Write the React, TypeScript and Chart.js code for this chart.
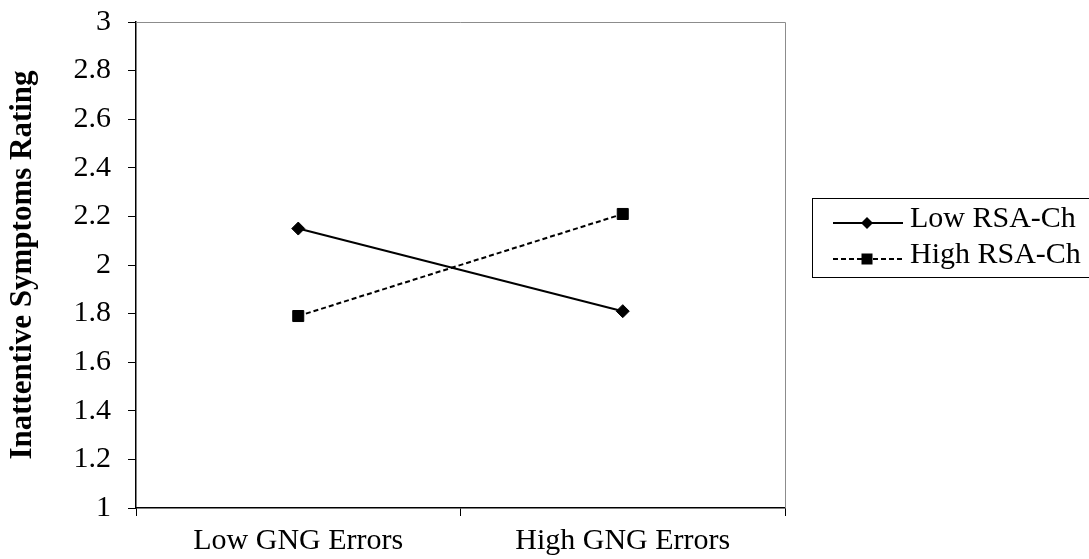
import React, { useEffect, useRef } from "react";
import { Chart, registerables } from "chart.js";

Chart.register(...registerables);

const categories = ["Low GNG Errors", "High GNG Errors"];
const lowRsaValues = [2.15, 1.81];
const highRsaValues = [1.79, 2.21];
const seriesNames = ["Low RSA-Ch", "High RSA-Ch"];
const yTicks = [1, 1.2, 1.4, 1.6, 1.8, 2, 2.2, 2.4, 2.6, 2.8, 3];
const yTitle = "Inattentive Symptoms Rating";

const FONT = "'Liberation Serif', 'Times New Roman', serif";

const frameAndLegend = {
  id: "frameAndLegend",
  beforeDatasetsDraw(chart: any) {
    const { ctx, chartArea } = chart;
    ctx.save();
    ctx.strokeStyle = "#8c8c8c";
    ctx.lineWidth = 1;
    ctx.beginPath();
    ctx.moveTo(chartArea.left, Math.round(chartArea.top) + 0.5);
    ctx.lineTo(Math.round(chartArea.right) + 0.5, Math.round(chartArea.top) + 0.5);
    ctx.lineTo(Math.round(chartArea.right) + 0.5, chartArea.bottom);
    ctx.stroke();
    ctx.restore();
  },
  afterDraw(chart: any) {
    const { ctx } = chart;
    const bx = 812.5, by = 198.5, bw = 290, bh = 79;
    ctx.save();
    ctx.strokeStyle = "#000";
    ctx.lineWidth = 1;
    ctx.strokeRect(bx, by, bw, bh);
    const rows = [223, 259];
    const baselines = [227, 263];
    chart.data.datasets.forEach((ds: any, i: number) => {
      const y = rows[i];
      ctx.save();
      ctx.strokeStyle = ds.borderColor;
      ctx.lineWidth = ds.borderWidth;
      ctx.setLineDash(ds.borderDash || []);
      ctx.beginPath();
      ctx.moveTo(833, y);
      ctx.lineTo(903, y);
      ctx.stroke();
      ctx.restore();
      ctx.save();
      ctx.fillStyle = ds.pointBackgroundColor;
      if (ds.pointStyle === "rectRot") {
        const r = 6;
        ctx.beginPath();
        ctx.moveTo(867, y - r);
        ctx.lineTo(867 + r, y);
        ctx.lineTo(867, y + r);
        ctx.lineTo(867 - r, y);
        ctx.closePath();
        ctx.fill();
      } else {
        ctx.fillRect(867 - 5.5, y - 5.5, 11, 11);
      }
      ctx.restore();
      ctx.fillStyle = "#000";
      ctx.font = `30px ${FONT}`;
      ctx.textBaseline = "alphabetic";
      ctx.textAlign = "left";
      ctx.fillText(ds.label, 910, baselines[i]);
    });
    ctx.restore();
  },
};

export default function App() {
  const ref = useRef<HTMLCanvasElement>(null);
  useEffect(() => {
    document.body.style.margin = "0";
    const chart = new Chart(ref.current!, {
      type: "line",
      data: {
        labels: categories,
        datasets: [
          {
            label: seriesNames[0],
            data: lowRsaValues,
            borderColor: "#000",
            borderWidth: 2,
            pointStyle: "rectRot",
            pointRadius: 6.5,
            pointBackgroundColor: "#000",
            pointBorderColor: "#000",
            pointBorderWidth: 1,
            tension: 0,
          },
          {
            label: seriesNames[1],
            data: highRsaValues,
            borderColor: "#000",
            borderWidth: 2,
            borderDash: [5, 3],
            pointStyle: "rect",
            pointRadius: 7.8,
            pointBackgroundColor: "#000",
            pointBorderColor: "#000",
            pointBorderWidth: 1,
            tension: 0,
          },
        ],
      },
      options: {
        animation: false,
        responsive: false,
        layout: { padding: { left: 0, top: 22, right: 304, bottom: 0 } },
        plugins: { legend: { display: false }, tooltip: { enabled: false } },
        scales: {
          x: {
            type: "category",
            offset: true,
            afterFit: (s: any) => {
              s.height = 51;
              s.paddingLeft = 0;
              s.paddingRight = 0;
            },
            grid: {
              offset: true,
              drawOnChartArea: false,
              drawTicks: true,
              tickLength: 8,
              color: "#000",
            },
            border: { display: true, color: "#000", width: 1.5 },
            ticks: {
              color: "#000",
              font: { family: FONT, size: 30 },
              padding: 7,
              maxRotation: 0,
            },
          },
          y: {
            min: 1,
            max: 3,
            afterFit: (s: any) => {
              s.width = 136;
              s.paddingTop = 0;
              s.paddingBottom = 0;
            },
            afterBuildTicks: (s: any) => { s.ticks = yTicks.map((v) => ({ value: v })); },
            grid: {
              drawOnChartArea: false,
              drawTicks: true,
              tickLength: 8,
              color: "#000",
            },
            border: { display: true, color: "#000", width: 1.5 },
            ticks: {
              color: "#000",
              font: { family: FONT, size: 30 },
              padding: 17,
              callback: (v: any) => String(Number(v)),
            },
            title: {
              display: true,
              text: yTitle,
              color: "#000",
              font: { family: FONT, size: 31, weight: "bold" },
              padding: { top: 4, bottom: 0 },
            },
          },
        },
      },
      plugins: [frameAndLegend],
    });
    return () => chart.destroy();
  }, []);
  return (
    <div style={{ width: 1089, height: 559 }}>
      <canvas ref={ref} width={1089} height={559} />
    </div>
  );
}
